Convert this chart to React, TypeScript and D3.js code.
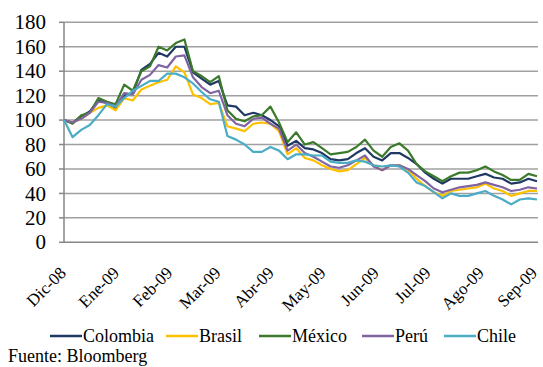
import React from "react";
import * as d3 from "d3";

// Index of equity markets (base 100 = 1 Dec 2008), sampled every 5 days
const START = new Date(2008, 11, 1);
const DATES: Date[] = d3.timeDay.range(START, d3.timeDay.offset(START, 276), 5);

const COLOMBIA = [100, 98, 103, 107, 116, 114, 110, 120, 122, 141, 146, 155, 152, 160, 160, 139, 134, 129, 132, 112, 111, 104, 106, 104, 100, 95, 79, 83, 77, 76, 73, 68, 67, 68, 73, 77, 70, 67, 73, 73, 69, 64, 57, 52, 48, 52, 52, 52, 54, 56, 53, 52, 48, 49, 52, 50];
const BRASIL = [100, 98, 101, 106, 110, 112, 108, 118, 116, 125, 128, 131, 133, 144, 139, 121, 118, 113, 114, 95, 93, 91, 97, 98, 97, 91, 72, 77, 69, 67, 63, 60, 58, 59, 64, 69, 63, 59, 63, 63, 59, 52, 46, 41, 38, 42, 43, 44, 45, 48, 44, 42, 38, 40, 42, 42];
const MEXICO = [100, 97, 104, 106, 118, 115, 113, 129, 124, 140, 144, 160, 157, 163, 166, 140, 136, 131, 136, 108, 101, 99, 103, 104, 111, 98, 82, 90, 80, 82, 77, 72, 73, 74, 78, 84, 75, 70, 78, 81, 75, 64, 58, 54, 50, 54, 57, 57, 59, 62, 58, 55, 51, 51, 56, 54];
const PERU = [100, 98, 101, 106, 115, 114, 111, 122, 121, 133, 137, 145, 143, 152, 153, 135, 127, 122, 124, 104, 97, 95, 101, 102, 97, 93, 75, 80, 73, 70, 66, 62, 61, 63, 67, 71, 62, 59, 63, 63, 60, 55, 50, 44, 41, 43, 45, 46, 47, 49, 47, 45, 42, 43, 45, 44];
const CHILE = [100, 86, 92, 96, 104, 113, 111, 118, 124, 128, 132, 132, 138, 138, 135, 130, 123, 117, 115, 87, 84, 80, 74, 74, 78, 75, 68, 72, 72, 71, 71, 66, 65, 65, 67, 66, 63, 62, 63, 62, 57, 49, 46, 41, 36, 40, 38, 38, 40, 42, 38, 35, 31, 35, 36, 35];

const SERIES_NAMES = ["Colombia", "Brasil", "México", "Perú", "Chile"];
const SERIES_VALUES = [COLOMBIA, BRASIL, MEXICO, PERU, CHILE];
const SERIES_COLORS = ["#1f3864", "#ffc000", "#3b7a2a", "#8064a2", "#4bacc6"];

const MONTH_LABELS = ["Dic-08", "Ene-09", "Feb-09", "Mar-09", "Abr-09", "May-09", "Jun-09", "Jul-09", "Ago-09", "Sep-09"];
const Y_TICKS = [0, 20, 40, 60, 80, 100, 120, 140, 160, 180];

const W = 543;
const H = 367;
const LEFT = 64;
const RIGHT = 537;
const TOP = 22.3;
const BOTTOM = 242.3;
const FONT = "'Liberation Serif', 'Times New Roman', serif";

// legend entries: x where each swatch starts
const LEGEND_X = [50, 166, 259, 362, 444];

export default function App() {
  const x = d3.scaleTime().domain([DATES[0], DATES[DATES.length - 1]]).range([LEFT, RIGHT]);
  const y = d3.scaleLinear().domain([0, 180]).range([BOTTOM, TOP]);
  const months = d3.timeMonth.range(START, d3.timeDay.offset(DATES[DATES.length - 1], 1));

  const line = (vals: number[]) =>
    d3
      .line<number>()
      .x((_, i) => x(DATES[i]))
      .y((v) => y(v))(vals) || "";

  return (
    <svg
      width={W}
      height={H}
      style={{ position: "absolute", left: 0, top: 0, background: "#fff" }}
      fontFamily={FONT}
    >
      {/* horizontal gridlines */}
      {Y_TICKS.filter((t) => t > 0).map((t) => (
        <line key={t} x1={LEFT} x2={RIGHT + 1} y1={y(t)} y2={y(t)} stroke="#a0a0a0" strokeWidth={1.5} />
      ))}
      {/* y axis */}
      <line x1={LEFT} x2={LEFT} y1={TOP} y2={BOTTOM} stroke="#868686" strokeWidth={1.5} />
      {Y_TICKS.map((t) => (
        <g key={t}>
          <line x1={LEFT - 5} x2={LEFT} y1={y(t)} y2={y(t)} stroke="#868686" strokeWidth={1.5} />
          <text x={46} y={y(t)} dy="0.34em" textAnchor="end" fontSize={21} fill="#000">
            {t}
          </text>
        </g>
      ))}
      {/* x axis */}
      <line x1={LEFT} x2={RIGHT + 1} y1={BOTTOM} y2={BOTTOM} stroke="#868686" strokeWidth={1.5} />
      {months.map((m, i) => (
        <text
          key={i}
          transform={`translate(${x(m) + 3},${274}) rotate(-45)`}
          textAnchor="end"
          fontSize={17}
          fill="#000"
        >
          {MONTH_LABELS[i]}
        </text>
      ))}
      {/* series */}
      {SERIES_VALUES.map((vals, i) => (
        <path
          key={SERIES_NAMES[i]}
          d={line(vals)}
          fill="none"
          stroke={SERIES_COLORS[i]}
          strokeWidth={2.2}
          strokeLinejoin="round"
        />
      ))}
      {/* legend */}
      {SERIES_NAMES.map((name, i) => (
        <g key={name} transform={`translate(${LEGEND_X[i]},336)`}>
          <line x1={0} x2={32} y1={0} y2={0} stroke={SERIES_COLORS[i]} strokeWidth={2.5} />
          <text x={33} y={6} fontSize={18} fill="#000">
            {name}
          </text>
        </g>
      ))}
      <text x={8} y={362} fontSize={18} fill="#000">
        Fuente: Bloomberg
      </text>
    </svg>
  );
}
